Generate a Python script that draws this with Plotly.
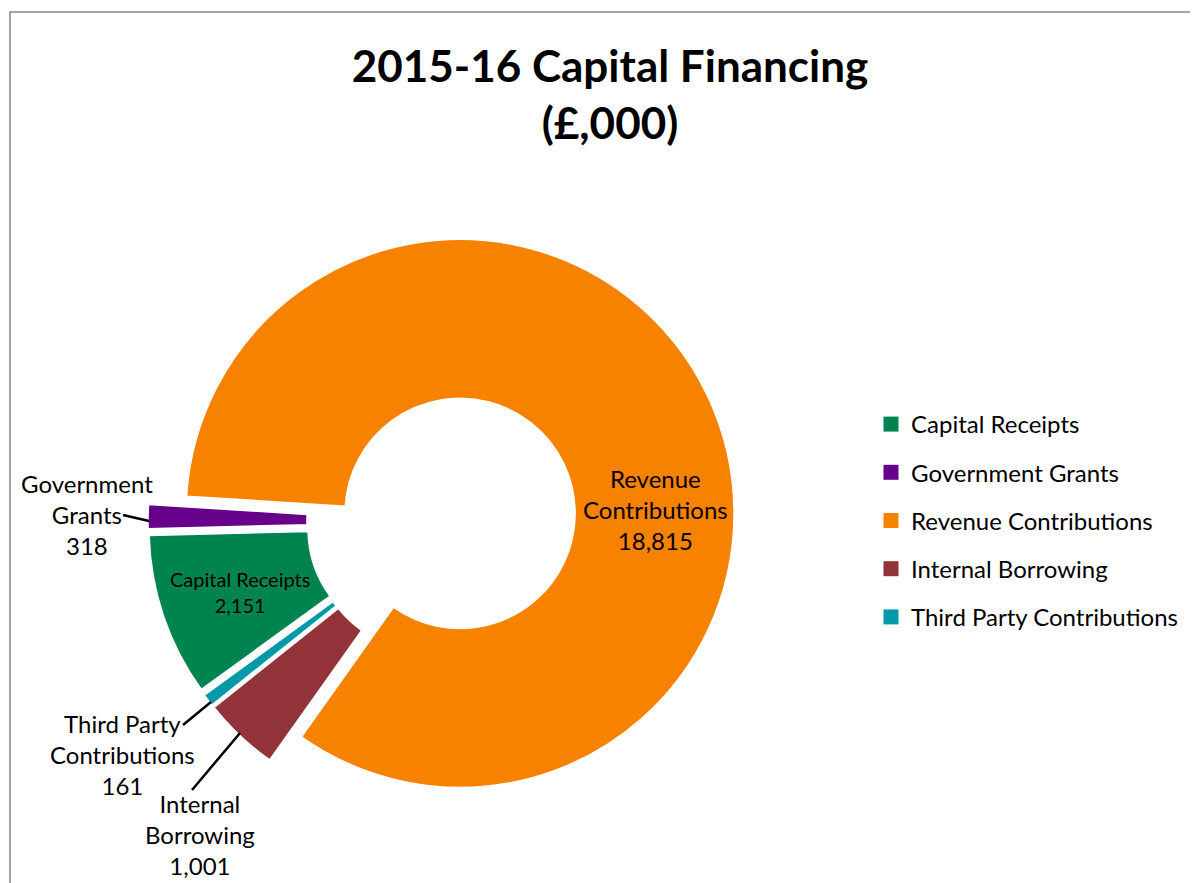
import plotly.graph_objects as go

# ---- data ----
categories = ["Capital Receipts", "Government Grants", "Revenue Contributions",
              "Internal Borrowing", "Third Party Contributions"]
values = [2151, 318, 18815, 1001, 161]
colors = ["#00844F", "#67008A", "#F78200", "#913338", "#0099A8"]
# how each category name is broken over lines in the data labels
label_breaks = ["Capital Receipts", "Government<br>Grants", "Revenue<br>Contributions",
                "Internal<br>Borrowing", "Third Party<br>Contributions"]

# the page body has an 8px margin: the figure is drawn from (8, 8)
OFF = 8
W, H = 1198 - OFF, 883 - OFF
FONT = "Lato, 'Open Sans', Arial, sans-serif"


def px(x, y):
    """screen pixel (reference coords) -> paper coords"""
    return (x - OFF) / W, 1 - (y - OFF) / H


fig = go.Figure()

# pie domain: centre (442, 522) px, square 588 px
cx, cy, size = 442, 522, 588
x0, y1 = px(cx - size / 2, cy - size / 2)
x1, y0 = px(cx + size / 2, cy + size / 2)

fig.add_trace(go.Pie(
    labels=categories, values=values, sort=False, direction="clockwise",
    rotation=234, hole=0.42, pull=0.073,
    marker=dict(colors=colors, line=dict(color="white", width=1.5)),
    textinfo="none", hoverinfo="label+value", showlegend=False,
    domain=dict(x=[x0, x1], y=[y0, y1]),
))

# legend entries (one group per category so they can be spaced)
for i, (c, col) in enumerate(zip(categories, colors)):
    fig.add_trace(go.Scatter(
        x=[None], y=[None], mode="markers", name=c, legendgroup=f"g{i}",
        marker=dict(symbol="square", size=15, color=col), hoverinfo="skip",
    ))

# data labels
label_pos = [(240, 592, 20), (87, 514, 24), (655, 509, 24), (200, 834, 24), (122, 754, 24)]
annotations = []
for txt, v, (lx, ly, fs) in zip(label_breaks, values, label_pos):
    ax_, ay_ = px(lx, ly)
    annotations.append(dict(
        x=ax_, y=ay_, xref="paper", yref="paper", xanchor="center", yanchor="middle",
        text=f"{txt}<br>{v:,}", showarrow=False, align="center",
        font=dict(family=FONT, size=fs, color="black"),
    ))

# leader lines for the outside labels
leaders = [((123, 515), (149, 521)), ((183, 725), (211, 702)), ((192, 790), (240, 733))]
shapes = []
for (a, b) in leaders:
    xa, ya = px(*a)
    xb, yb = px(*b)
    shapes.append(dict(type="line", xref="paper", yref="paper", x0=xa, y0=ya, x1=xb, y1=yb,
                       line=dict(color="black", width=2.5)))

# chart border
bx0, by1 = px(10, 12)
bx1, by0 = px(1198 + 5, 883 + 5)
shapes.append(dict(type="rect", xref="paper", yref="paper", x0=bx0, y0=by0, x1=bx1, y1=by1,
                   line=dict(color="#888888", width=1.5)))

lx, ly = px(871, 402)
fig.update_layout(
    width=W, height=H,
    margin=dict(l=0, r=0, t=0, b=0),
    paper_bgcolor="white", plot_bgcolor="white",
    title=dict(text="<b>2015-16 Capital Financing<br>(£,000)</b>", x=(610 - OFF) / W,
               xanchor="center", y=1 - 74 / H, yanchor="middle", yref="container",
               font=dict(family=FONT, size=44, color="black")),
    xaxis=dict(visible=False), yaxis=dict(visible=False),
    showlegend=True,
    legend=dict(x=lx, y=ly, xanchor="left", yanchor="top", traceorder="grouped",
                tracegroupgap=14, itemwidth=30,
                font=dict(family=FONT, size=24, color="black"),
                bgcolor="rgba(0,0,0,0)"),
    annotations=annotations, shapes=shapes,
)

fig.write_html("out.html")
